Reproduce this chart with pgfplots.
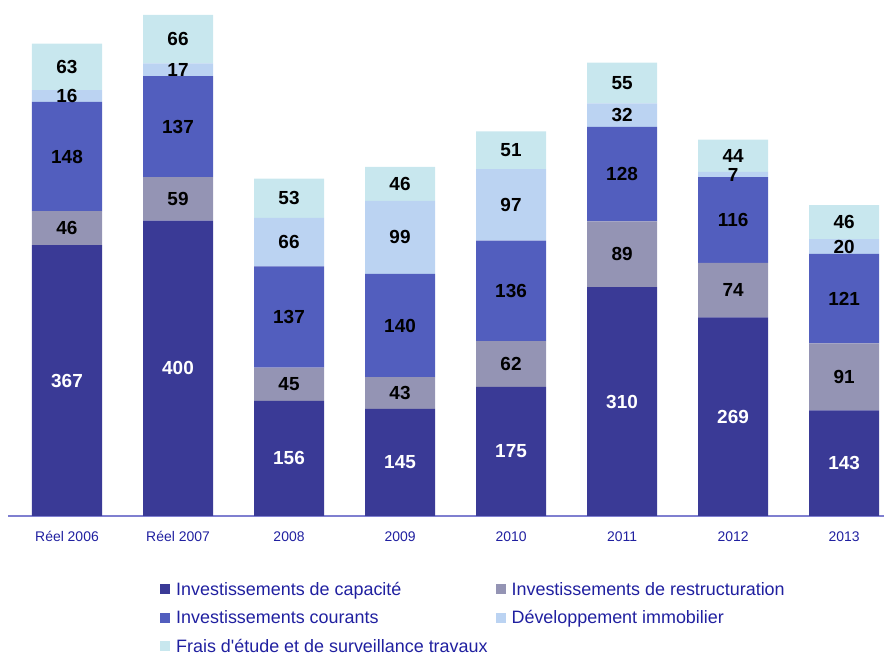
\documentclass[border=0pt]{standalone}
\usepackage{pgfplots}
\pgfplotsset{compat=1.18}
\usepackage{fontspec}
\setmainfont{Liberation Sans}[Ligatures=TeXOff]
\definecolor{cCap}{HTML}{3A3A96}
\definecolor{cRes}{HTML}{9494B4}
\definecolor{cCou}{HTML}{525EBE}
\definecolor{cImm}{HTML}{BBD3F2}
\definecolor{cFra}{HTML}{C8E7EE}
\definecolor{cAxis}{HTML}{7F7FD0}
\definecolor{cText}{HTML}{2020A0}
\begin{document}
\begin{tikzpicture}
\path[use as bounding box] (0,0) rectangle (884bp,655bp);
\pgfplotsset{
  base/.style={
    at={(8bp,139bp)}, anchor=south west,
    width=876bp, height=516bp, scale only axis,
    xmin=-0.5315, xmax=7.36, ymin=0, ymax=699,
    xtick={0,...,7},
  }
}
\begin{axis}[base, ybar stacked, bar width=70bp, bar shift=0pt,
  axis x line=bottom, axis y line=none,
  x axis line style={-, draw=cAxis, line width=2bp},
  major tick length=0pt,
  xticklabels={Réel 2006, Réel 2007, 2008, 2009, 2010, 2011, 2012, 2013},
  xticklabel style={font=\fontsize{14}{16}\selectfont, text=cText, yshift=-12bp},
  legend columns=2,
  legend cell align=left,
  legend image code/.code={\fill[#1] (0bp,-5bp) rectangle (10bp,5bp); \path (14bp,0bp);},
  legend style={at={(axis description cs:0.1735,-0.124)}, anchor=north west,
    draw=none, fill=none, inner sep=0pt,
    font=\fontsize{18}{20}\selectfont, text=cText,
    nodes={text height=13bp, text depth=1bp, inner sep=2bp},
    row sep=10.5bp,
    /tikz/every even column/.append style={column sep=6bp}},
]
\addplot[fill=cCap, draw=none] coordinates {(0,367) (1,400) (2,156) (3,145) (4,175) (5,310) (6,269) (7,143)};
\addlegendentry{Investissements de capacité}
\addplot[fill=cRes, draw=none] coordinates {(0,46) (1,59) (2,45) (3,43) (4,62) (5,89) (6,74) (7,91)};
\addlegendentry{Investissements de restructuration}
\addplot[fill=cCou, draw=none] coordinates {(0,148) (1,137) (2,137) (3,140) (4,136) (5,128) (6,116) (7,121)};
\addlegendentry{Investissements courants}
\addplot[fill=cImm, draw=none] coordinates {(0,16) (1,17) (2,66) (3,99) (4,97) (5,32) (6,7) (7,20)};
\addlegendentry{Développement immobilier}
\addplot[fill=cFra, draw=none] coordinates {(0,63) (1,66) (2,53) (3,46) (4,51) (5,55) (6,44) (7,46)};
\addlegendentry{Frais d'étude et de surveillance travaux}
\end{axis}
\begin{axis}[base, hide axis, clip=false,
  point meta=explicit symbolic,
  every node near coord/.append style={anchor=center, font=\fontsize{19}{21}\selectfont\bfseries}]
\addplot[draw=none, mark=none, nodes near coords, every node near coord/.append style={text=white}]
  coordinates {(0,183.5)[367] (1,200)[400] (2,78)[156] (3,72.5)[145] (4,87.5)[175] (5,155)[310] (6,134.5)[269] (7,71.5)[143]};
\addplot[draw=none, mark=none, nodes near coords, every node near coord/.append style={text=black}]
  coordinates {(0,390)[46] (1,429.5)[59] (2,178.5)[45] (3,166.5)[43] (4,206)[62] (5,354.5)[89] (6,306)[74] (7,188.5)[91]};
\addplot[draw=none, mark=none, nodes near coords, every node near coord/.append style={text=black}]
  coordinates {(0,487)[148] (1,527.5)[137] (2,269.5)[137] (3,258)[140] (4,305)[136] (5,463)[128] (6,401)[116] (7,294.5)[121]};
\addplot[draw=none, mark=none, nodes near coords, every node near coord/.append style={text=black}]
  coordinates {(0,569)[16] (1,604.5)[17] (2,371)[66] (3,377.5)[99] (4,421.5)[97] (5,543)[32] (6,462.5)[7] (7,365)[20]};
\addplot[draw=none, mark=none, nodes near coords, every node near coord/.append style={text=black}]
  coordinates {(0,608.5)[63] (1,646)[66] (2,430.5)[53] (3,450)[46] (4,495.5)[51] (5,586.5)[55] (6,488)[44] (7,398)[46]};
\end{axis}
\end{tikzpicture}
\end{document}
